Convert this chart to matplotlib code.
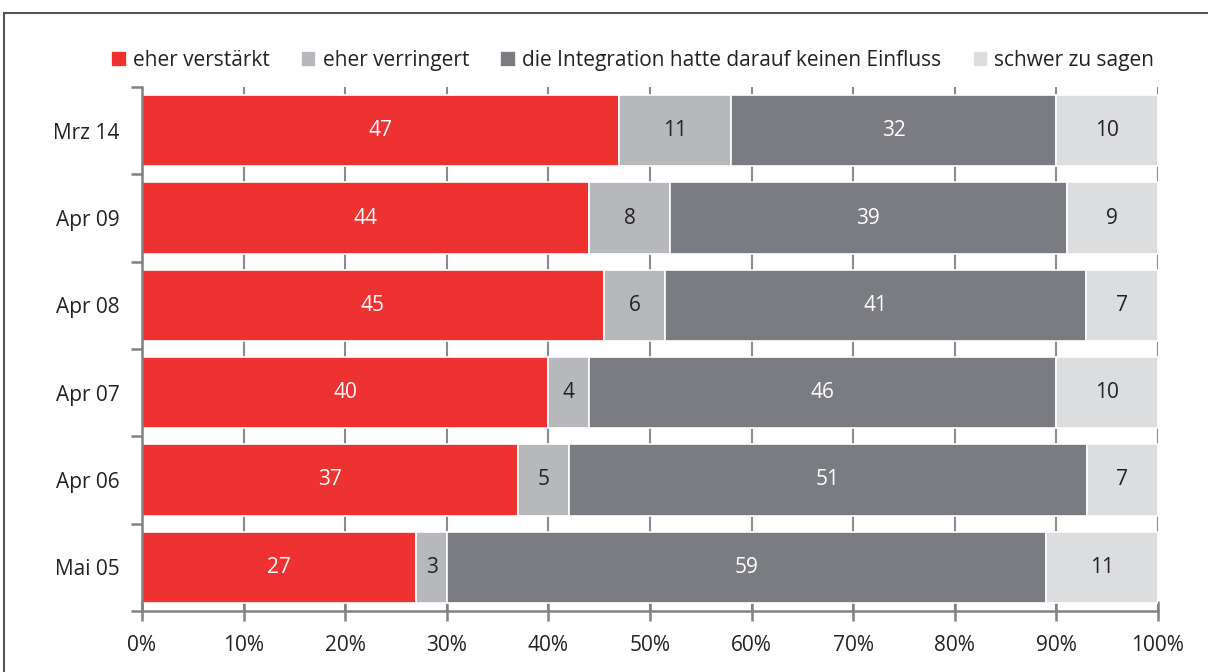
import numpy as np
import matplotlib.pyplot as plt
from matplotlib.patches import Rectangle

plt.rcParams['font.family'] = ['Open Sans', 'DejaVu Sans']

# Data (top to bottom)
periods = ['Mrz 14', 'Apr 09', 'Apr 08', 'Apr 07', 'Apr 06', 'Mai 05']
verstaerkt = [47, 44, 45, 40, 37, 27]
verringert = [11, 8, 6, 4, 5, 3]
kein_einfluss = [32, 39, 41, 46, 51, 59]
schwer = [10, 9, 7, 10, 7, 11]

series = [verstaerkt, verringert, kein_einfluss, schwer]
names = ['eher verstärkt', 'eher verringert',
         'die Integration hatte darauf keinen Einfluss', 'schwer zu sagen']
colors = ['#EE3131', '#B6B8BB', '#7B7C81', '#DCDDDF']
text_colors = ['white', '#222222', 'white', '#222222']

fig = plt.figure(figsize=(12.08, 6.72), dpi=100)
ax = fig.add_axes([0.1175, 0.0908, 0.8411, 0.7797])

# outer frame
fig.patches.append(Rectangle((4 / 1208, -0.05), 1.1, (672 - 13) / 672 + 0.05,
                             transform=fig.transFigure, fill=False,
                             edgecolor='#555555', linewidth=1.5))

vals = np.array(series, dtype=float)
totals = vals.sum(axis=0)
y = np.arange(len(periods))
left = np.zeros(len(periods))
for vals_row, raw, name, col, tcol in zip(vals / totals * 100, series, names, colors, text_colors):
    bars = ax.barh(y, vals_row, left=left, height=0.82, color=col,
                   edgecolor='white', linewidth=1.2, label=name, zorder=2)
    for b, v in zip(bars, raw):
        ax.text(b.get_x() + b.get_width() / 2, b.get_y() + b.get_height() / 2,
                str(v), ha='center', va='center', color=tcol, fontsize=15, zorder=3)
    left += vals_row

ax.set_xlim(0, 100)
ax.set_ylim(len(periods) - 0.5, -0.5)
ax.set_xticks(np.arange(0, 101, 10))
ax.set_xticklabels([f'{t}%' for t in range(0, 101, 10)])
ax.set_yticks(y)
ax.set_yticklabels(periods)
ax.set_yticks(np.arange(-0.5, len(periods)), minor=True)

ax.grid(axis='x', color='#8A8B8E', linewidth=1.5, zorder=0)
ax.set_axisbelow(True)

for s in ['top', 'right']:
    ax.spines[s].set_visible(False)
for s in ['left', 'bottom']:
    ax.spines[s].set_color('#808185')
    ax.spines[s].set_linewidth(1.8)

ax.tick_params(axis='y', which='major', length=0, pad=16, labelsize=15, labelcolor='#222222')
ax.tick_params(axis='y', which='minor', length=8, width=1.8, color='#808185', direction='out')
ax.tick_params(axis='x', length=14, width=1.8, color='#808185', direction='inout',
               labelsize=15, labelcolor='#222222', pad=10)

ax.legend(loc='center', bbox_to_anchor=(0.483, 1.05), ncol=4, frameon=False,
          fontsize=15, handlelength=0.75, handleheight=0.75, handletextpad=0.3,
          columnspacing=1.5, labelcolor='#222222')

fig.savefig('out.png', dpi=100)
